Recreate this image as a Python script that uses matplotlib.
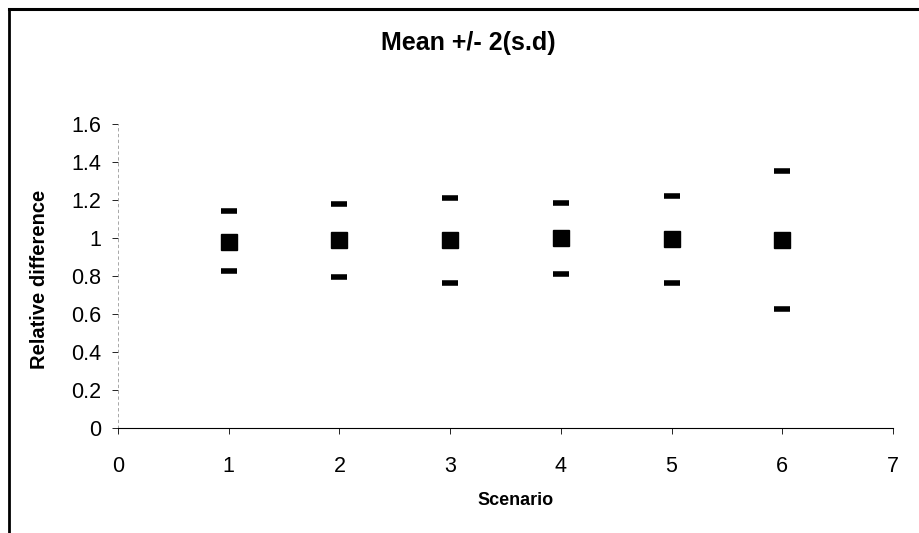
import numpy as np
import matplotlib
matplotlib.use("Agg")
import matplotlib.pyplot as plt
from matplotlib.lines import Line2D

plt.rcParams['font.family'] = ['Liberation Sans', 'DejaVu Sans']

# values
scenario = [1, 2, 3, 4, 5, 6]
mean = [0.98, 0.988, 0.988, 0.998, 0.993, 0.991]
upper = [1.14, 1.18, 1.21, 1.185, 1.22, 1.353]
lower = [0.824, 0.796, 0.764, 0.812, 0.762, 0.628]
xticks = [0, 1, 2, 3, 4, 5, 6, 7]
yticks = [0, 0.2, 0.4, 0.6, 0.8, 1, 1.2, 1.4, 1.6]
ylabels = ['0', '0.2', '0.4', '0.6', '0.8', '1', '1.2', '1.4', '1.6']

fig = plt.figure(figsize=(9.19, 5.33), dpi=100)
ax = fig.add_axes([118/919, 1-428/533, 775/919, 304/533])

# frame of the chart: only top and left edges show in the scan
fig.lines.append(Line2D([9/919, 1], [1-9/533, 1-9/533], transform=fig.transFigure,
                        color='black', linewidth=2.2))
fig.lines.append(Line2D([9/919, 9/919], [0, 1-9/533], transform=fig.transFigure,
                        color='black', linewidth=2.0))

ax.plot(scenario, upper, ls='none', marker='_', ms=12, mew=4, color='black')
ax.plot(scenario, lower, ls='none', marker='_', ms=12, mew=4, color='black')
ax.plot(scenario, mean, ls='none', marker='s', ms=11.5, color='black')

ax.set_xlim(0, 7)
ax.set_ylim(0, 1.6)
ax.set_xticks(xticks)
ax.set_yticks(yticks)
ax.set_yticklabels(ylabels)

for s in ['top', 'right']:
    ax.spines[s].set_visible(False)
ax.spines['left'].set_color('#999999')
ax.spines['left'].set_linewidth(0.6)
ax.spines['left'].set_linestyle((0, (3, 4)))
ax.spines['bottom'].set_linewidth(0.8)

ax.tick_params(axis='y', length=4, width=0.6, pad=8, labelsize=15.5)
ax.tick_params(axis='x', length=4, width=0.6, pad=16, labelsize=15.5)

fig.text(468/919, 1-43/533, 'Mean +/- 2(s.d)', fontsize=18, fontweight='bold',
         ha='center', va='center')
ax.set_xlabel('Scenario', fontsize=13, fontweight='bold')
ax.set_ylabel('Relative difference', fontsize=14.5, fontweight='bold')
ax.xaxis.set_label_coords(0.513, -0.21)
ax.yaxis.set_label_coords(-0.089, 0.49)

fig.savefig('out.png', dpi=100)
